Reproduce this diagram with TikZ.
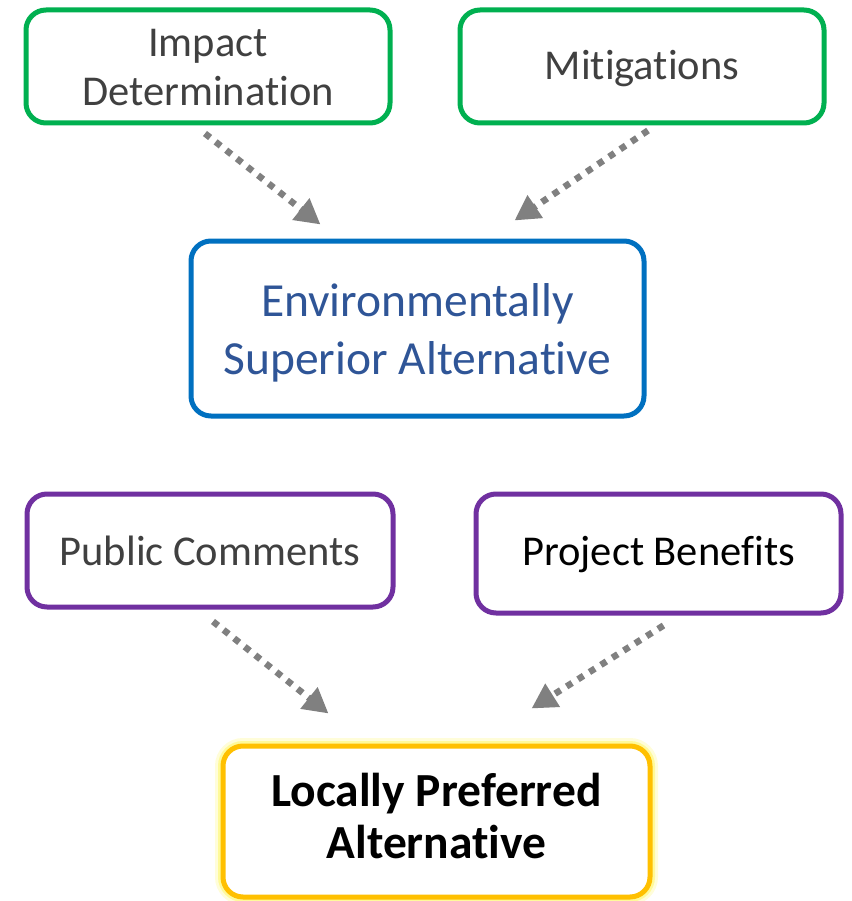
\documentclass[tikz,border=0pt]{standalone}
\usepackage{fontspec}
\setmainfont{Carlito}[Ligatures=NoCommon]
\usetikzlibrary{arrows.meta}
\definecolor{boxgreen}{RGB}{0,176,80}
\definecolor{boxblue}{RGB}{0,112,192}
\definecolor{boxpurple}{RGB}{112,48,160}
\definecolor{boxgold}{RGB}{255,192,0}
\definecolor{txtgray}{RGB}{64,64,64}
\definecolor{txtblue}{RGB}{47,85,151}
\definecolor{arrowgray}{RGB}{128,128,128}
% text lines, last baseline put #1 below the box centre
\newcommand{\boxtext}[2]{\raisebox{-#1}[0pt][0pt]{\begin{tabular}[b]{@{}c@{}}#2\end{tabular}}}

\begin{document}
\begin{tikzpicture}[x=1pt,y=-1pt,
    box/.style={draw,line width=5pt,rounded corners=20pt,fill=white,
        inner sep=0pt,text=txtgray,font=\fontsize{42.5}{49}\selectfont},
    flow/.style={draw=arrowgray,line width=6.5pt,dash pattern=on 6.5pt off 7pt,
        -{Triangle[length=25pt,width=26pt]}}]
		\useasboundingbox (0,0) rectangle (851,901);
		% upper row
		\node[box,draw=boxgreen,minimum width=364pt,minimum height=113pt] (impact) at (208,66.5) {\boxtext{39.2pt}{Impact\\Determination}};
		\node[box,draw=boxgreen,minimum width=364pt,minimum height=113pt] (mitig) at (642,66.5) {\boxtext{13.5pt}{Mitigations}};
		\node[box,draw=boxblue,minimum width=453pt,minimum height=175pt,text=txtblue,
		    font=\fontsize{47.5}{57.3}\selectfont] (esa) at (417.5,328.5) {\boxtext{45.5pt}{Environmentally\\Superior Alternative}};
		% lower row
		\node[box,draw=boxpurple,minimum width=366pt,minimum height=113pt] (public) at (210,550.5) {\boxtext{15.2pt}{Public Comments}};
		\node[box,draw=boxpurple,minimum width=365pt,minimum height=119pt,text=black] (benefit) at (658.5,553.5) {\boxtext{12.2pt}{Project Benefits}};
		\node[box,draw=boxgold,minimum width=427pt,minimum height=151pt,text=black,
		    font=\fontsize{47.5}{52}\selectfont\bfseries,
		    preaction={draw=yellow!60,line width=16pt,opacity=.25},
		    preaction={draw=yellow!70,line width=10pt,opacity=.45}] (lpa) at (436.5,821.5) {\boxtext{36.8pt}{Locally Preferred\\Alternative}};
		% arrows
		\draw[flow] ([yshift=-8pt,xshift=-3pt]impact.south) -- ([xshift=132pt,yshift=14pt]esa.north west);
		\draw[flow] ([yshift=-5pt,xshift=6pt]mitig.south) -- ([xshift=-132pt,yshift=18pt]esa.north east);
		\draw[flow] ([yshift=-12pt,xshift=3pt]public.south) -- ([xshift=108pt,yshift=30pt]lpa.north west);
		\draw[flow] ([yshift=-10pt,xshift=5pt]benefit.south) -- ([xshift=-121pt,yshift=35pt]lpa.north east);
\end{tikzpicture}
\end{document}
